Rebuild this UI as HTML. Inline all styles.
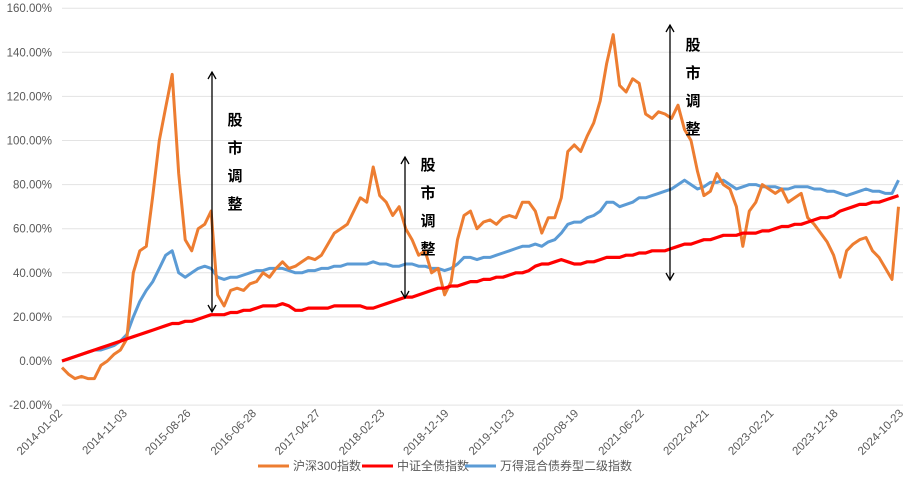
<!DOCTYPE html>
<html><head><meta charset="utf-8">
<style>
body{margin:0;background:#fff;}
svg{display:block;font-family:"Liberation Sans","Noto Sans CJK SC",sans-serif;}
</style></head>
<body>
<svg id="chart" width="924" height="500" viewBox="0 0 924 500">
<g id="grid"></g>
<g id="yticks"></g>
<g id="xticks"></g>
<g id="series"></g>
<g id="annot"></g>
<g id="legend"></g>
</svg>
<script>
const yTickValues=[-20,0,20,40,60,80,100,120,140,160];
const xTickLabels=["2014-01-02","2014-11-03","2015-08-26","2016-06-28","2017-04-27","2018-02-23","2018-12-19","2019-10-23","2020-08-19","2021-06-22","2022-04-21","2023-02-21","2023-12-18","2024-10-23"];
const xTickMonths=[0,10,19.8,29.9,39.8,49.7,59.6,69.7,79.6,89.7,99.7,109.7,119.6,129.7];
const csi300=[-3,-6,-8,-7,-8,-8,-2,0,3,5,10,40,
50,52,75,100,115,130,85,55,50,60,62,68,
30,25,32,33,32,35,36,40,38,42,45,42,
43,45,47,46,48,53,58,60,62,68,74,72,
88,75,72,66,70,60,55,48,50,40,42,30,
36,55,66,68,60,63,64,62,65,66,65,72,
72,68,58,65,65,74,95,98,95,102,108,118,
135,148,125,122,128,126,112,110,113,112,110,116,
105,100,86,75,77,85,80,78,70,52,68,72,
80,78,76,78,72,74,76,65,62,58,54,48,
38,50,53,55,56,50,47,42,37,70];
const bondIndex=[0,1,2,3,4,5,6,7,8,9,10,11,
12,13,14,15,16,17,17,18,18,19,20,21,
21,21,22,22,23,23,24,25,25,25,26,25,
23,23,24,24,24,24,25,25,25,25,25,24,
24,25,26,27,28,29,29,30,31,32,33,33,
34,34,35,36,36,37,37,38,38,39,40,40,
41,43,44,44,45,46,45,44,44,45,45,46,
47,47,47,48,48,49,49,50,50,50,51,52,
53,53,54,55,55,56,57,57,57,58,58,58,
59,59,60,61,61,62,62,63,64,65,65,66,
68,69,70,71,71,72,72,73,74,75];
const hybridBond=[0,1,2,3,4,5,5,6,7,9,12,20,
27,32,36,42,48,50,40,38,40,42,43,42,
38,37,38,38,39,40,41,41,42,42,42,41,
40,40,41,41,42,42,43,43,44,44,44,44,
45,44,44,43,43,44,44,43,43,42,42,41,
42,44,47,47,46,47,47,48,49,50,51,52,
52,53,52,54,55,58,62,63,63,65,66,68,
72,72,70,71,72,74,74,75,76,77,78,80,
82,80,78,79,81,81,82,80,78,79,80,80,
79,79,79,78,78,79,79,79,78,78,77,77,
76,75,76,77,78,77,77,76,76,82];

const X0=62,X1=903,Y0=361,PX=22.05;
const xScale=m=>X0+m*(X1-X0)/129.7;
const yScale=v=>Y0-v*PX/10;
const NS="http://www.w3.org/2000/svg";
function mk(tag,attrs,parent){const e=document.createElementNS(NS,tag);for(const k in attrs)e.setAttribute(k,attrs[k]);parent.appendChild(e);return e;}
const grid=document.getElementById('grid'),yt=document.getElementById('yticks'),xt=document.getElementById('xticks');
yTickValues.forEach(v=>{
 const l=mk('line',{x1:X0,x2:X1,y1:yScale(v),y2:yScale(v),stroke:'#e3e3e3','stroke-width':1},grid);
 
 
 const t=mk('text',{x:52,y:yScale(v)+4,'text-anchor':'end','font-size':11.5,fill:'#595959'},yt);
 t.textContent=v.toFixed(2)+'%';
 
 
});
xTickLabels.forEach((s,i)=>{
 const x=xScale(xTickMonths[i])+1,y=414;
 const t=mk('text',{x:x,y:y,'text-anchor':'end','font-size':11.5,fill:'#595959',transform:`rotate(-45 ${x} ${y})`},xt);
 t.textContent=s;
 
 
});
const ser=document.getElementById('series');
function draw(arr,color,name,w){
 const d=arr.map((v,i)=>(i?'L':'M')+xScale(i).toFixed(1)+','+yScale(v).toFixed(1)).join('');
 const p=mk('path',{d:d,fill:'none',stroke:color,'stroke-width':w,'stroke-linejoin':'round'},ser);
 
 
}
draw(hybridBond,'#5b9bd5','hybrid-bond-line',3);
draw(csi300,'#ed7d31','csi300-line',3);
draw(bondIndex,'#ff0000','bond-index-line',3.2);

const an=document.getElementById('annot');
[[212,72,312,235,125],[405,157,298,428,170],[670,25,280,693,50]].forEach(a=>{
 const [x,y1,y2,tx,ty]=a;
 const g=mk('g',{},an);
 
 
 mk('line',{x1:x,x2:x,y1:y1,y2:y2,stroke:'#000','stroke-width':1.3},g);
 mk('path',{d:`M${x-4},${y1+7}L${x},${y1}L${x+4},${y1+7}M${x-4},${y2-7}L${x},${y2}L${x+4},${y2-7}`,fill:'none',stroke:'#000','stroke-width':1.3},g);
 ['股','市','调','整'].forEach((c,i)=>{const t=mk('text',{x:tx,y:ty+i*28,'text-anchor':'middle','font-size':15,'font-weight':'bold',fill:'#000'},g);t.textContent=c;});
});
const lg=document.getElementById('legend');
[[258,'#ed7d31','沪深300指数'],[362,'#ff0000','中证全债指数'],[465,'#5b9bd5','万得混合债券型二级指数']].forEach(e=>{
 const g=mk('g',{},lg);
 
 
 mk('line',{x1:e[0],x2:e[0]+31,y1:466,y2:466,stroke:e[1],'stroke-width':3},g);
 const t=mk('text',{x:e[0]+35,y:470,'font-size':12,fill:'#595959'},g);t.textContent=e[2];
});
</script>
</body></html>
